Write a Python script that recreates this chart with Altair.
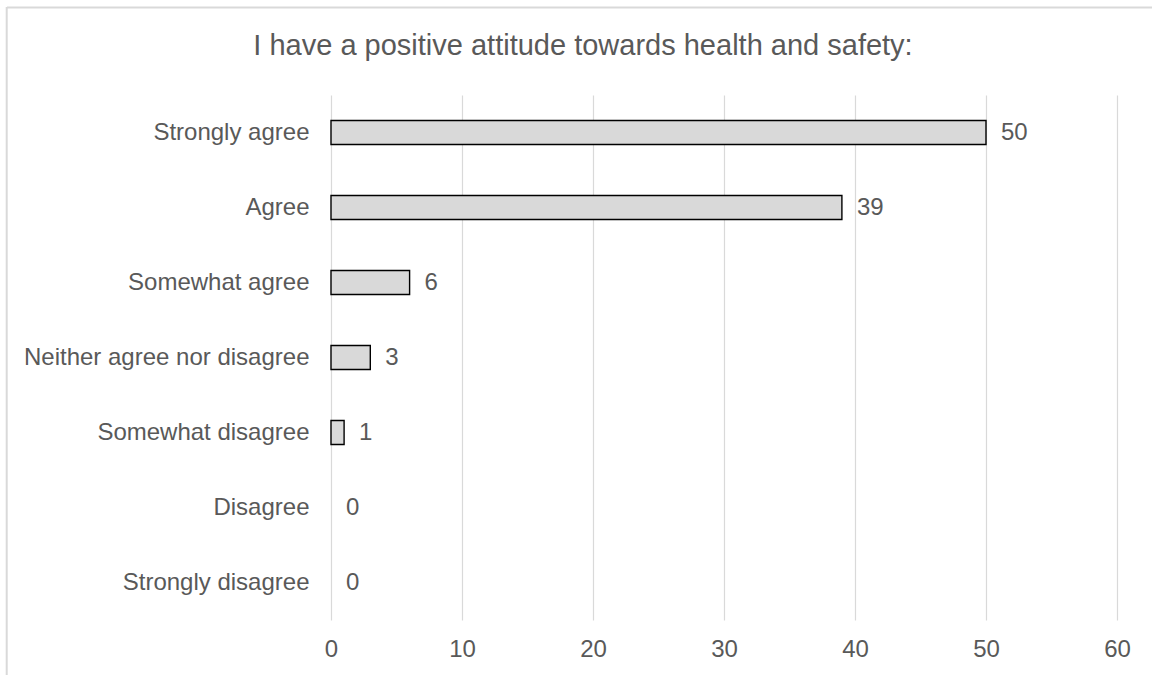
import altair as alt
import pandas as pd

# Survey responses for one statement
categories = [
    "Strongly agree",
    "Agree",
    "Somewhat agree",
    "Neither agree nor disagree",
    "Somewhat disagree",
    "Disagree",
    "Strongly disagree",
]
counts = [50, 39, 6, 3, 1, 0, 0]

title_text = "I have a positive attitude towards health and safety:"
x_ticks = [0, 10, 20, 30, 40, 50, 60]

df = pd.DataFrame({"response": categories, "count": counts})

FONT = "Liberation Sans"
TEXT_COLOR = "#595959"
GRID_COLOR = "#d9d9d9"

W, H = 786, 525
PAD = {"left": 331, "top": 95, "right": 35, "bottom": 55}

x_enc = alt.X(
    "count:Q",
    scale=alt.Scale(domain=[0, 60], nice=False, zero=True),
    axis=alt.Axis(
        values=x_ticks,
        title=None,
        grid=True,
        gridColor=GRID_COLOR,
        gridWidth=1.2,
        domain=False,
        ticks=False,
        tickSize=0,
        labelFlush=False,
        labelPadding=17,
        labelFont=FONT,
        labelFontSize=24,
        labelColor=TEXT_COLOR,
    ),
)
y_enc = alt.Y(
    "response:N",
    sort=categories,
    scale=alt.Scale(paddingInner=0.68, paddingOuter=0.34),
    axis=alt.Axis(
        title=None,
        domain=False,
        ticks=False,
        tickSize=0,
        grid=False,
        labelPadding=22,
        labelFont=FONT,
        labelFontSize=24,
        labelColor=TEXT_COLOR,
        labelLimit=400,
    ),
)

base = alt.Chart(df).encode(x=x_enc, y=y_enc)

bars = (
    base.transform_filter(alt.datum.count > 0)
    .mark_bar(fill="#d9d9d9", stroke="#000000", strokeWidth=1.4)
)

labels = base.mark_text(
    align="left",
    baseline="middle",
    dx=15,
    font=FONT,
    fontSize=24,
    color=TEXT_COLOR,
).encode(text="count:Q")

single = alt.Data(values=[{"label": title_text}])

# Chart heading, centred over the chart area
heading = alt.Chart(single).mark_text(
    align="center",
    baseline="alphabetic",
    font=FONT,
    fontSize=29,
    color=TEXT_COLOR,
).encode(
    text="label:N",
    x=alt.value(583 - PAD["left"]),
    y=alt.value(55 - PAD["top"]),
)

# Light frame along the top and left edges of the chart area
frame_top = alt.Chart(single).mark_rule(color=GRID_COLOR, strokeWidth=2).encode(
    x=alt.value(7 - PAD["left"]),
    x2=alt.value(1152 - PAD["left"]),
    y=alt.value(7.5 - PAD["top"]),
)
frame_left = alt.Chart(single).mark_rule(color=GRID_COLOR, strokeWidth=2).encode(
    x=alt.value(6.7 - PAD["left"]),
    y=alt.value(7 - PAD["top"]),
    y2=alt.value(675 - PAD["top"]),
)

chart = (
    alt.layer(bars, labels, heading, frame_top, frame_left)
    .properties(
        width=W,
        height=H,
        autosize=alt.AutoSizeParams(type="none"),
        padding=PAD,
        background="white",
    )
    .configure_view(stroke=None)
)

chart.save("out.html", embed_options={"renderer": "svg", "actions": False})
